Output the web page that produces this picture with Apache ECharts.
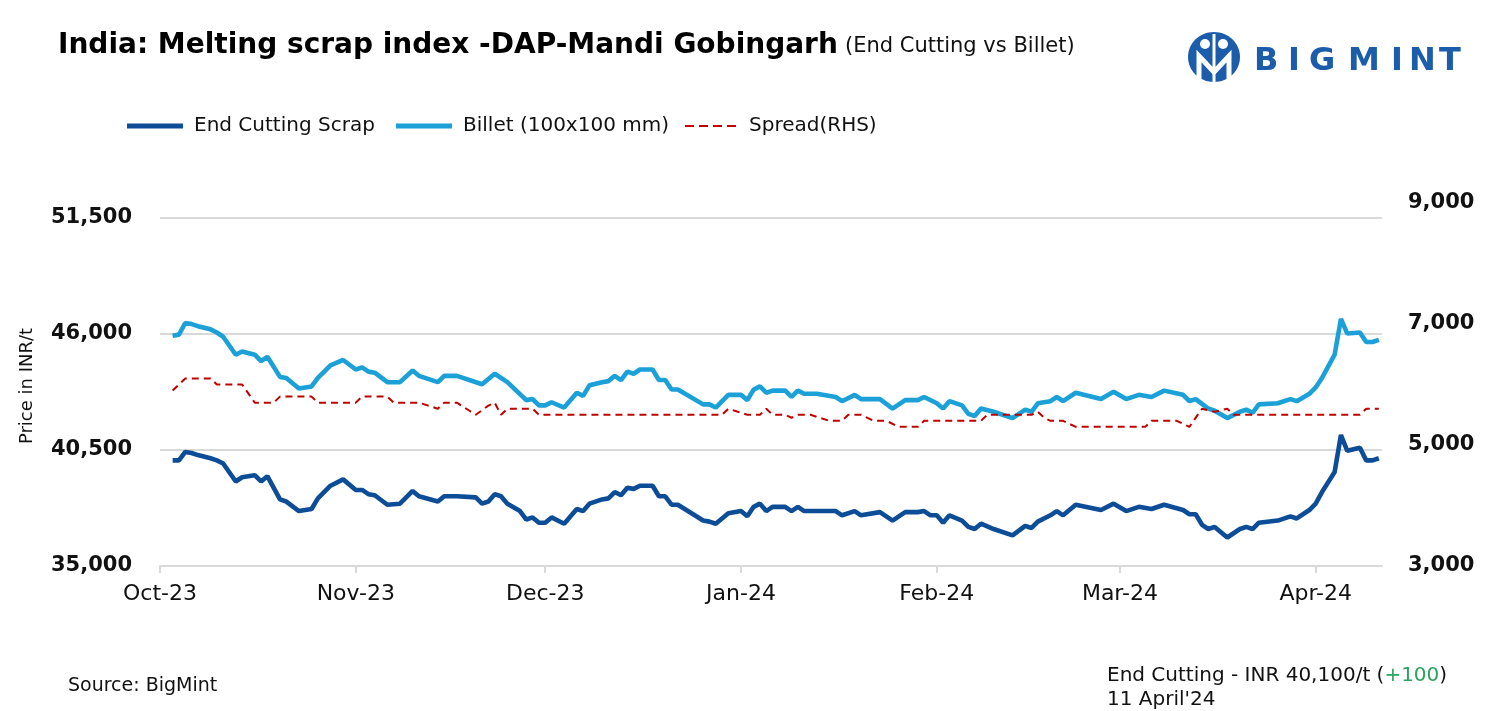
<!DOCTYPE html>
<html><head><meta charset="utf-8">
<script src="https://cdn.jsdelivr.net/npm/echarts@6/dist/echarts.min.js"></script>
<style>html,body{margin:0;padding:0;background:#fff}#c{width:1498px;height:711px}</style>
</head><body><div id="c"></div>
<script>
// ---------- DATA ----------
const scrapDates = ['2023-10-03','2023-10-04','2023-10-05','2023-10-06','2023-10-07','2023-10-09','2023-10-10','2023-10-11','2023-10-13','2023-10-14','2023-10-16','2023-10-17','2023-10-18','2023-10-20','2023-10-21','2023-10-23','2023-10-25','2023-10-26','2023-10-28','2023-10-30',
'2023-11-01','2023-11-02','2023-11-03','2023-11-04','2023-11-06','2023-11-08','2023-11-10','2023-11-11','2023-11-14','2023-11-15','2023-11-17','2023-11-20','2023-11-21','2023-11-22','2023-11-23','2023-11-24','2023-11-25','2023-11-27','2023-11-28','2023-11-29','2023-11-30',
'2023-12-01','2023-12-02','2023-12-04','2023-12-06','2023-12-07','2023-12-08','2023-12-10','2023-12-11','2023-12-12','2023-12-13','2023-12-14','2023-12-15','2023-12-16','2023-12-18','2023-12-19','2023-12-20','2023-12-21','2023-12-22','2023-12-26','2023-12-27','2023-12-28','2023-12-30',
'2024-01-01','2024-01-02','2024-01-03','2024-01-04','2024-01-05','2024-01-06','2024-01-08','2024-01-09','2024-01-10','2024-01-11','2024-01-16','2024-01-17','2024-01-19','2024-01-20','2024-01-23','2024-01-25','2024-01-27','2024-01-29','2024-01-30','2024-01-31',
'2024-02-01','2024-02-02','2024-02-03','2024-02-05','2024-02-06','2024-02-07','2024-02-08','2024-02-10','2024-02-13','2024-02-15','2024-02-16','2024-02-17','2024-02-19','2024-02-20','2024-02-21','2024-02-23','2024-02-27','2024-02-29',
'2024-03-02','2024-03-04','2024-03-06','2024-03-08','2024-03-11','2024-03-12','2024-03-13','2024-03-14','2024-03-15','2024-03-16','2024-03-18','2024-03-20','2024-03-21','2024-03-22','2024-03-23','2024-03-26','2024-03-28','2024-03-29','2024-03-31',
'2024-04-01','2024-04-02','2024-04-04','2024-04-05','2024-04-06','2024-04-08','2024-04-09','2024-04-10','2024-04-11'];
const scrapValues = [40000,40000,40400,40350,40250,40100,40000,39850,39000,39200,39300,39000,39250,38150,38050,37600,37700,38200,38800,39100,
38600,38600,38400,38350,37900,37950,38550,38300,38050,38300,38300,38250,37950,38050,38400,38300,37950,37600,37200,37300,37050,
37050,37300,37000,37700,37600,37950,38150,38200,38500,38350,38700,38650,38800,38800,38300,38300,37900,37900,37150,37100,37000,37500,
37600,37350,37800,37950,37600,37800,37800,37600,37800,37600,37600,37400,37600,37400,37550,37150,37550,37550,37600,37400,
37400,37050,37400,37150,36850,36750,37000,36750,36450,36900,36800,37100,37400,37600,37400,37900,37650,37950,
37600,37800,37700,37900,37650,37450,37450,36950,36750,36850,36350,36750,36850,36750,37050,37150,37350,37250,37650,
37950,38500,39450,41200,40450,40600,40000,40000,40100];

const billetDates = ['2023-10-03','2023-10-04','2023-10-05','2023-10-06','2023-10-07','2023-10-09','2023-10-10','2023-10-11','2023-10-13','2023-10-14','2023-10-16','2023-10-17','2023-10-18','2023-10-20','2023-10-21','2023-10-23','2023-10-25','2023-10-26','2023-10-28','2023-10-30',
'2023-11-01','2023-11-02','2023-11-03','2023-11-04','2023-11-06','2023-11-08','2023-11-10','2023-11-11','2023-11-14','2023-11-15','2023-11-17','2023-11-21','2023-11-23','2023-11-25','2023-11-28','2023-11-29','2023-11-30',
'2023-12-01','2023-12-02','2023-12-04','2023-12-06','2023-12-07','2023-12-08','2023-12-10','2023-12-11','2023-12-12','2023-12-13','2023-12-14','2023-12-15','2023-12-16','2023-12-18','2023-12-19','2023-12-20','2023-12-21','2023-12-22','2023-12-26','2023-12-27','2023-12-28','2023-12-30',
'2024-01-01','2024-01-02','2024-01-03','2024-01-04','2024-01-05','2024-01-06','2024-01-08','2024-01-09','2024-01-10','2024-01-11','2024-01-13','2024-01-16','2024-01-17','2024-01-19','2024-01-20','2024-01-23','2024-01-25','2024-01-27','2024-01-29','2024-01-30',
'2024-02-01','2024-02-02','2024-02-03','2024-02-05','2024-02-06','2024-02-07','2024-02-08','2024-02-10','2024-02-13','2024-02-15','2024-02-16','2024-02-17','2024-02-19','2024-02-20','2024-02-21','2024-02-23','2024-02-27','2024-02-29',
'2024-03-02','2024-03-04','2024-03-06','2024-03-08','2024-03-11','2024-03-12','2024-03-13','2024-03-15','2024-03-16','2024-03-18','2024-03-20','2024-03-21','2024-03-22','2024-03-23','2024-03-26','2024-03-28','2024-03-29','2024-03-31',
'2024-04-01','2024-04-02','2024-04-04','2024-04-05','2024-04-06','2024-04-08','2024-04-09','2024-04-10','2024-04-11'];
const billetValues = [45900,45950,46500,46450,46350,46200,46050,45850,45000,45150,45000,44700,44900,43950,43900,43400,43500,43900,44500,44750,
44300,44400,44200,44150,43700,43700,44250,44000,43700,44000,44000,43600,44100,43700,42850,42900,42600,
42600,42750,42500,43200,43050,43550,43700,43750,44000,43800,44200,44100,44300,44300,43800,43800,43350,43350,42650,42650,42500,43100,
43100,42850,43350,43500,43200,43300,43300,43000,43300,43150,43150,43000,42800,43100,42900,42900,42450,42850,42850,43000,
42700,42450,42800,42600,42200,42100,42450,42300,42000,42400,42300,42700,42800,43000,42800,43200,42900,43250,
42900,43100,43000,43300,43100,42800,42900,42450,42350,42000,42300,42400,42250,42650,42700,42900,42800,43150,
43450,43900,45000,46700,46000,46050,45600,45600,45700];

const spreadDates = ['2023-10-03','2023-10-05','2023-10-09','2023-10-10','2023-10-14','2023-10-16','2023-10-19','2023-10-20','2023-10-25','2023-10-26',
'2023-11-01','2023-11-02','2023-11-06','2023-11-07','2023-11-11','2023-11-14','2023-11-15','2023-11-17','2023-11-20','2023-11-22','2023-11-23','2023-11-24','2023-11-25','2023-11-29','2023-11-30',
'2023-12-29','2023-12-30','2024-01-02','2024-01-04','2024-01-05','2024-01-06','2024-01-08','2024-01-09','2024-01-10','2024-01-12','2024-01-15','2024-01-17','2024-01-18','2024-01-20','2024-01-22','2024-01-24','2024-01-26','2024-01-29','2024-01-30',
'2024-02-08','2024-02-09','2024-02-16','2024-02-17','2024-02-18','2024-02-19','2024-02-21','2024-02-23',
'2024-03-05','2024-03-06','2024-03-10','2024-03-12','2024-03-14','2024-03-16','2024-03-18','2024-03-19','2024-04-08','2024-04-09','2024-04-11'];
const spreadValues = [5900,6100,6100,6000,6000,5700,5700,5800,5800,5700,
5700,5800,5800,5700,5700,5600,5700,5700,5500,5650,5700,5500,5600,5600,5500,
5500,5600,5500,5500,5600,5500,5500,5450,5500,5500,5400,5400,5500,5500,5400,5400,5300,5300,5400,
5400,5500,5500,5550,5450,5400,5400,5300,
5300,5400,5400,5300,5600,5550,5600,5500,5500,5600,5600];

const seriesNames = ['End Cutting Scrap', 'Billet (100x100 mm)', 'Spread(RHS)'];
const tickDates = ['2023-10-01','2023-11-01','2023-12-01','2024-01-01','2024-02-01','2024-03-01','2024-04-01'];
const tickLabels = ['Oct-23','Nov-23','Dec-23','Jan-24','Feb-24','Mar-24','Apr-24'];

// ---------- CHART ----------
const FONT = 'DejaVu Sans';
const parseDay = s => { const p = s.split('-').map(Number); return new Date(p[0], p[1]-1, p[2]).getTime(); };
const pairs = (d, v) => d.map((x, i) => [parseDay(x), v[i]]);
const tickTimes = tickDates.map(parseDay);
const labelFor = v => { const i = tickTimes.indexOf(v); return i >= 0 ? tickLabels[i] : ''; };
const legendText = {fontFamily: FONT, fontSize: 20, color: '#111', padding: [0, 0, 0, 6]};
const dashIcon = 'path://M0 0H9V2H0Z M14 0H23V2H14Z M28 0H37V2H28Z M42 0H51V2H42Z';

const chart = echarts.init(document.getElementById('c'), null, {renderer: 'canvas'});
const option = {
  animation: false,
  backgroundColor: '#ffffff',
  textStyle: {fontFamily: FONT},
  grid: {left: 160, right: 116, top: 203, bottom: 145, containLabel: false, outerBoundsMode: 'none'},
  legend: [
    {data: [seriesNames[0]], left: 127, top: 116, padding: 0, icon: 'rect', itemWidth: 56, itemHeight: 5, textStyle: legendText},
    {data: [seriesNames[1]], left: 396, top: 116, padding: 0, icon: 'rect', itemWidth: 56, itemHeight: 5, textStyle: legendText},
    {data: [seriesNames[2]], left: 685, top: 116, padding: 0, icon: dashIcon, itemWidth: 51, itemHeight: 2.5,
     textStyle: Object.assign({}, legendText, {padding: [0, 0, 0, 8]})}
  ],
  xAxis: {
    type: 'value',
    min: parseDay('2023-10-01'),
    max: parseDay('2024-04-11') + 12 * 3600 * 1000,
    axisLine: {show: true, onZero: false, lineStyle: {color: '#d9d9d9', width: 2}},
    axisTick: {show: true, length: 7, lineStyle: {color: '#d9d9d9', width: 2}, customValues: tickTimes},
    axisLabel: {customValues: tickTimes, formatter: labelFor, fontFamily: FONT, fontSize: 22, color: '#111', margin: 17},
    splitLine: {show: false}
  },
  yAxis: [
    {type: 'value', min: 35000, max: 52180, interval: 5500, position: 'left',
     axisLine: {show: false}, axisTick: {show: false},
     axisLabel: {fontFamily: FONT, fontSize: 21, fontWeight: 'bold', color: '#111', margin: 28, showMaxLabel: false,
       formatter: v => v.toLocaleString('en-US')},
     splitLine: {show: true, showMaxLine: false, lineStyle: {color: '#d9d9d9', width: 2}}},
    {type: 'value', min: 3000, max: 9000, interval: 2000, position: 'right',
     axisLine: {show: false}, axisTick: {show: false},
     axisLabel: {fontFamily: FONT, fontSize: 21, fontWeight: 'bold', color: '#111', margin: 26,
       formatter: v => v.toLocaleString('en-US')},
     splitLine: {show: false}}
  ],
  series: [
    {name: seriesNames[0], type: 'line', yAxisIndex: 0, data: pairs(scrapDates, scrapValues),
     symbol: 'none', lineStyle: {color: '#0d4d97', width: 4.6}, itemStyle: {color: '#0d4d97'}},
    {name: seriesNames[1], type: 'line', yAxisIndex: 0, data: pairs(billetDates, billetValues),
     symbol: 'none', lineStyle: {color: '#1ba0d8', width: 4.6}, itemStyle: {color: '#1ba0d8'}},
    {name: seriesNames[2], type: 'line', yAxisIndex: 1, data: pairs(spreadDates, spreadValues),
     symbol: 'none', lineStyle: {color: '#c00000', width: 2, type: [7, 5]}, itemStyle: {color: '#c00000'}}
  ],
  graphic: [
    {type: 'text', x: 58, y: 46, style: {text: 'India: Melting scrap index -DAP-Mandi Gobingarh', font: 'bold 28px "DejaVu Sans"', fill: '#000', verticalAlign: 'middle'}},
    {type: 'text', x: 845, y: 47, style: {text: '(End Cutting vs Billet)', font: '21px "DejaVu Sans"', fill: '#111', verticalAlign: 'middle'}},
    {type: 'text', x: 27, y: 386, rotation: Math.PI / 2, style: {text: 'Price in INR/t', font: '18px "DejaVu Sans"', fill: '#111', align: 'center', verticalAlign: 'middle'}},
    {type: 'text', x: 68, y: 686, style: {text: 'Source: BigMint', font: '19px "DejaVu Sans"', fill: '#111', verticalAlign: 'middle'}},
    {type: 'text', x: 1107, y: 676, style: {
      text: '{a|End Cutting - INR 40,100/t (}{g|+100}{a|)}', verticalAlign: 'middle',
      rich: {a: {fontFamily: FONT, fontSize: 20, fill: '#111'}, g: {fontFamily: FONT, fontSize: 20, fill: '#2ca25f'}}}},
    {type: 'text', x: 1107, y: 700, style: {text: "11 April'24", font: '20px "DejaVu Sans"', fill: '#111', verticalAlign: 'middle'}},
    {type: 'group', children: [
      {type: 'ellipse', shape: {cx: 1214, cy: 57, rx: 26, ry: 25}, style: {fill: '#1b5cab'}},
      {type: 'circle', shape: {cx: 1205, cy: 44, r: 5}, style: {fill: '#fff'}},
      {type: 'circle', shape: {cx: 1223, cy: 44, r: 5}, style: {fill: '#fff'}},
      {type: 'polyline', shape: {points: [[1199, 80], [1199, 56], [1214, 72], [1229, 56], [1229, 80]]}, style: {stroke: '#fff', lineWidth: 5, fill: null}},
      {type: 'line', shape: {x1: 1214, y1: 34, x2: 1214, y2: 82}, style: {stroke: '#fff', lineWidth: 3}}
    ]},
    {type: 'text', x: 1254, y: 62, style: {text: 'B', font: 'bold 32px "DejaVu Sans"', fill: '#1b5cab', verticalAlign: 'middle'}},
    {type: 'text', x: 1288, y: 62, style: {text: 'I', font: 'bold 32px "DejaVu Sans"', fill: '#1b5cab', verticalAlign: 'middle'}},
    {type: 'text', x: 1309, y: 62, style: {text: 'G', font: 'bold 32px "DejaVu Sans"', fill: '#1b5cab', verticalAlign: 'middle'}},
    {type: 'text', x: 1348, y: 62, style: {text: 'M', font: 'bold 32px "DejaVu Sans"', fill: '#1b5cab', verticalAlign: 'middle'}},
    {type: 'text', x: 1391, y: 62, style: {text: 'I', font: 'bold 32px "DejaVu Sans"', fill: '#1b5cab', verticalAlign: 'middle'}},
    {type: 'text', x: 1409, y: 62, style: {text: 'N', font: 'bold 32px "DejaVu Sans"', fill: '#1b5cab', verticalAlign: 'middle'}},
    {type: 'text', x: 1439, y: 62, style: {text: 'T', font: 'bold 32px "DejaVu Sans"', fill: '#1b5cab', verticalAlign: 'middle'}}
  ]
};
chart.setOption(option);
</script>
</body></html>
